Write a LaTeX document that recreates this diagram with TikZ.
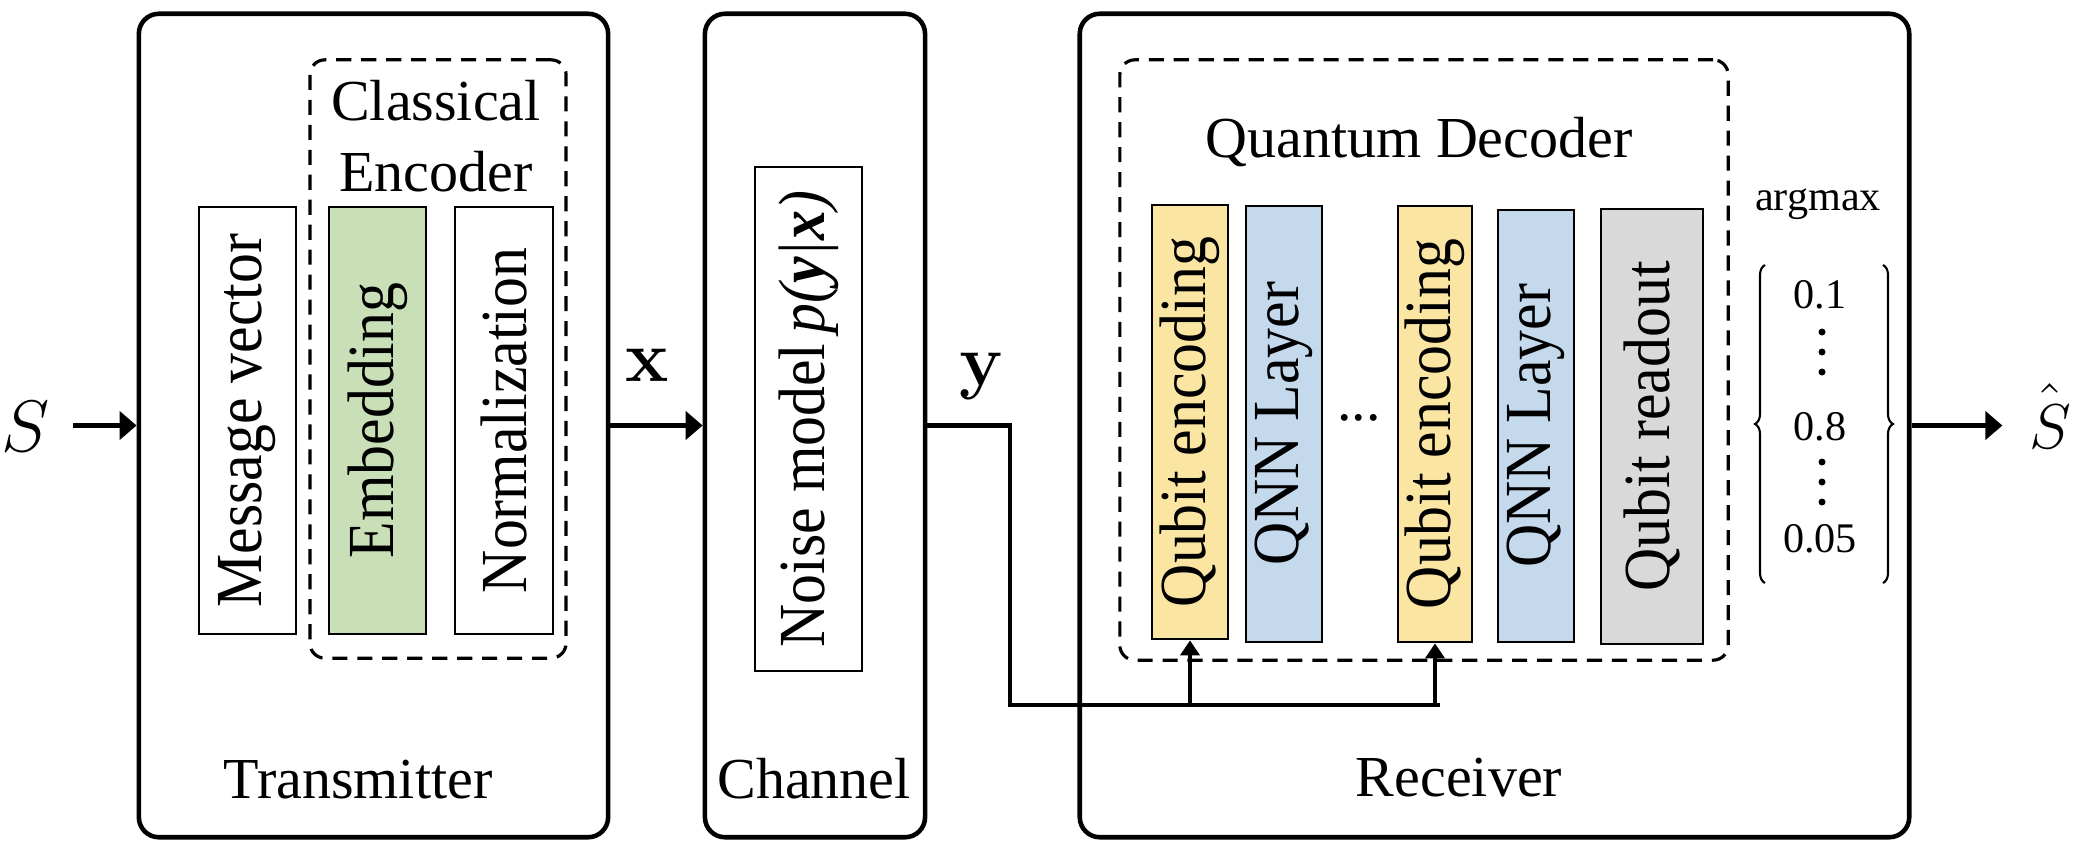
\documentclass[tikz,border=0pt]{standalone}
\usepackage{graphicx}
\usepackage[no-math]{fontspec}
\setmainfont{Liberation Serif}
\usetikzlibrary{arrows.meta,decorations.pathreplacing}
\definecolor{embgreen}{HTML}{C9DFB8}
\definecolor{qyellow}{HTML}{FAE5A2}
\definecolor{qblue}{HTML}{C5D9ED}
\definecolor{qgray}{HTML}{D9D9D9}
\newcommand\lblfont{\fontsize{16.5}{20}\selectfont}
\newcommand\vfont{\fontsize{17}{20}\selectfont}
\newcommand\smfont{\fontsize{12}{14}\selectfont}
\newcommand\mathfnt{\fontsize{20.74}{24}\selectfont}
\newcommand\vtext[1]{\rotatebox{90}{\scalebox{1}[1.1]{#1}}}
\begin{document}
\begin{tikzpicture}[x=0.01cm,y=-0.01cm,
  outer/.style={draw, line width=1.3pt, rounded corners=0.2cm, inner sep=0pt},
  grp/.style={draw, line width=0.9pt, dash pattern=on 4.3pt off 2.8pt, rounded corners=0.15cm, inner sep=0pt},
  blk/.style={draw, line width=0.7pt, inner sep=0pt, font=\vfont},
  lbl/.style={font=\lblfont, inner sep=0pt},
  small/.style={font=\smfont, inner sep=0pt},
  sig/.style={line width=1.3pt, -{Triangle[length=0.17cm,width=0.28cm]}},
  wire/.style={line width=1.3pt},
  uparr/.style={line width=1.4pt, -{Triangle[length=0.15cm,width=0.19cm]}},
  brc/.style={line width=0.6pt, decorate, decoration={brace, amplitude=0.1cm}},
]
\useasboundingbox (0,0) rectangle (2078,854);

% outer boxes
\node[outer, minimum width=4.69cm, minimum height=8.23cm] (tx) at (373.5,425.5) {};
\node[outer, minimum width=2.20cm, minimum height=8.23cm] (ch) at (815,425.5) {};
\node[outer, minimum width=8.29cm, minimum height=8.23cm] (rx) at (1494.5,425.5) {};

% group boxes
\node[grp, minimum width=2.56cm, minimum height=5.98cm] (ce) at (438,359) {};
\node[grp, minimum width=6.08cm, minimum height=6.00cm] (qd) at (1424,360) {};

% transmitter blocks
\node[blk, minimum width=0.97cm, minimum height=4.27cm] (mv) at (247.5,420.5) {\vtext{Message vector}};
\node[blk, fill=embgreen, minimum width=0.97cm, minimum height=4.27cm] (emb) at (377.5,420.5) {\vtext{Embedding}};
\node[blk, minimum width=0.98cm, minimum height=4.27cm] (nrm) at (504,420.5) {\vtext{Normalization}};

% channel block
\node[blk, minimum width=1.07cm, minimum height=5.04cm] (nm) at (808.5,419) {\vtext{Noise model\,\textit{p(\textbf{y}|\textbf{x})}}};

% receiver blocks
\node[blk, fill=qyellow, minimum width=0.76cm, minimum height=4.34cm] (enc1) at (1190,422) {\vtext{Qubit encoding}};
\node[blk, fill=qblue, minimum width=0.76cm, minimum height=4.36cm] (qnn1) at (1284,424) {\vtext{QNN Layer}};
\node[lbl, anchor=base] (dots) at (1359,420) {...};
\node[blk, fill=qyellow, minimum width=0.74cm, minimum height=4.36cm] (enc2) at (1435,424) {\vtext{Qubit encoding}};
\node[blk, fill=qblue, minimum width=0.76cm, minimum height=4.32cm] (qnn2) at (1536,426) {\vtext{QNN Layer}};
\node[blk, fill=qgray, minimum width=1.02cm, minimum height=4.35cm] (ro) at (1652,426.5) {\vtext{Qubit readout}};

% titles
\node[lbl, align=center] (cet) at (436,136) {Classical\\Encoder};
\node[lbl, anchor=base] (qdt) at (1419,157) {Quantum Decoder};
\node[lbl, anchor=base] (txt) at (358,798) {Transmitter};
\node[lbl, anchor=base] (cht) at (814,798) {Channel};
\node[lbl, anchor=base] (rxt) at (1459,796) {Receiver};

% signal labels
\node[inner sep=0pt, font=\fontsize{17.28}{22}\selectfont] (s) at (26,427) {\scalebox{1.2}{$S$}};
\node[inner sep=0pt, font=\mathfnt, anchor=base] (xl) at (647,381) {$\mathbf{x}$};
\node[inner sep=0pt, font=\mathfnt, anchor=base] (yl) at (982,385) {$\mathbf{y}$};
\node[inner sep=0pt, font=\fontsize{12}{14}\selectfont, anchor=base] (shat) at (2050,448) {\scalebox{1.5}{$\hat{\vphantom{\big|}S}$}};

% argmax vector
\node[small, anchor=base] (am) at (1818,210) {argmax};
\node[small, anchor=base] (v1) at (1820,308) {0.1};
\node[small, anchor=base] (v2) at (1820,440) {0.8};
\node[small, anchor=base] (v3) at (1820,552) {0.05};
\foreach \yy in {332,352,372,462,482,502} \fill (1822,\yy) circle (0.035cm);
\coordinate (bl1) at (1765,583);
\coordinate (bl2) at (1765,265);
\coordinate (br1) at (1883,265);
\coordinate (br2) at (1883,583);
\draw[brc] (bl1) -- (bl2);
\draw[brc] (br1) -- (br2);

% connectors
\draw[sig, shorten <=0.22cm] (tx.west -| s.east) -- (tx.west);
\draw[sig] (tx.east) -- (ch.west);
\coordinate (yk) at (1010,425.5);
\coordinate (yb) at (1010,705);
\coordinate (ye) at (1440,705);
\draw[wire] (ch.east) -- (yk) -- (yb) -- (ye);
\draw[uparr] (enc1.south |- yb) -- (enc1.south);
\draw[uparr] (enc2.south |- yb) -- (enc2.south);
\draw[sig, shorten >=0.26cm] (rx.east) -- (rx.east -| shat.west);
\end{tikzpicture}
\end{document}
